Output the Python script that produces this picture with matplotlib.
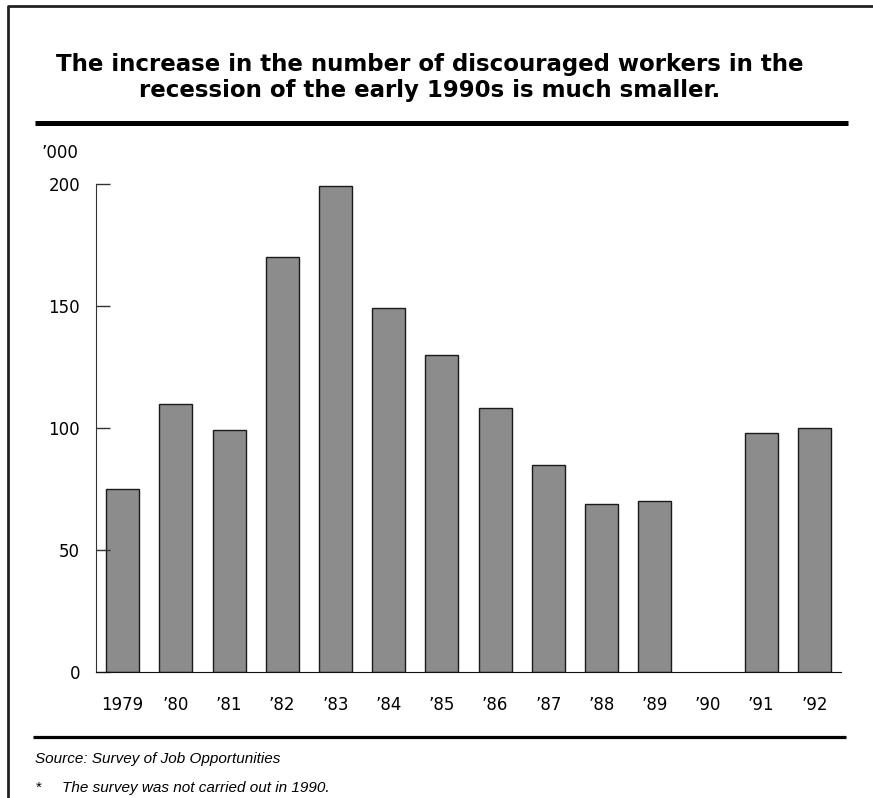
import numpy as np
import matplotlib
matplotlib.use("Agg")
import matplotlib.pyplot as plt
from matplotlib.lines import Line2D

plt.rcParams['font.family'] = ['DejaVu Sans']

# Discouraged workers, thousands (no survey in 1990)
years = ['1979', '’80', '’81', '’82', '’83', '’84', '’85', '’86',
         '’87', '’88', '’89', '’90', '’91', '’92']
workers = [75, 110, 99, 170, 199, 149, 130, 108, 85, 69, 70, np.nan, 98, 100]
yticks = [0, 50, 100, 150, 200]

W, H = 873, 798
fig = plt.figure(figsize=(W / 100, H / 100), dpi=100)


def fx(px):
    return px / W


def fy(py):
    return 1 - py / H


# axes placed in pixel terms
ax = fig.add_axes([fx(96), fy(672), fx(841) - fx(96), fy(184) - fy(672)])
x = np.arange(len(years))
ax.bar(x, workers, width=0.62, color='#8c8c8c', edgecolor='#1a1a1a', linewidth=1.0)
ax.set_xlim(-0.5, len(years) - 0.5)
ax.set_ylim(0, 200)
ax.set_yticks(yticks)
ax.set_xticks(x)
ax.set_xticklabels(years)
for s in ['top', 'right']:
    ax.spines[s].set_visible(False)
ax.spines['left'].set_color('#333333')
ax.spines['bottom'].set_color('#111111')
ax.tick_params(axis='y', direction='in', length=10, width=1, color='#333333',
               labelsize=12, pad=11.5)
ax.tick_params(axis='x', length=0, labelsize=12, pad=17)

# title and rules
fig.text(fx(430), fy(64), 'The increase in the number of discouraged workers in the',
         ha='center', va='center', fontsize=16.5, fontweight='bold')
fig.text(fx(430), fy(90), 'recession of the early 1990s is much smaller.',
         ha='center', va='center', fontsize=16.5, fontweight='bold')
fig.add_artist(Line2D([fx(35), fx(848)], [fy(123), fy(123)], color='black',
                      linewidth=3.6, solid_capstyle='butt'))
fig.text(fx(42), fy(153), '’000', ha='left', va='center', fontsize=12)

fig.add_artist(Line2D([fx(33), fx(846)], [fy(737), fy(737)], color='black',
                      linewidth=2.3, solid_capstyle='butt'))
fig.text(fx(35), fy(759), 'Source: Survey of Job Opportunities', ha='left',
         va='center', fontsize=11, style='italic', family='Liberation Sans')
fig.text(fx(36), fy(788), '*', ha='left', va='center', fontsize=11,
         family='Liberation Sans')
fig.text(fx(62), fy(788), 'The survey was not carried out in 1990.', ha='left',
         va='center', fontsize=11, style='italic', family='Liberation Sans')

# outer frame, left and top edges
fig.add_artist(Line2D([fx(8), fx(8), fx(873)], [fy(798), fy(6), fy(6)],
                      color='#222222', linewidth=2))

fig.savefig('out.png', dpi=100)
